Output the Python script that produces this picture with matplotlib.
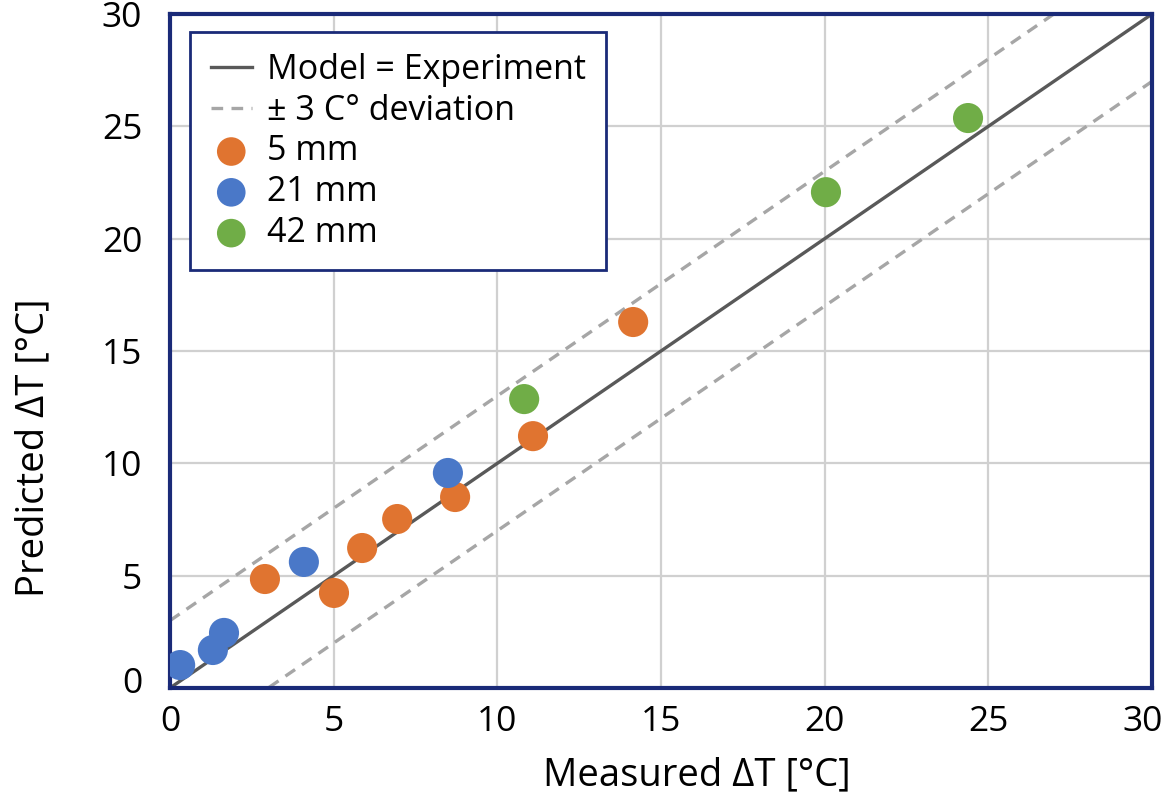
import matplotlib
matplotlib.use('Agg')
import matplotlib.pyplot as plt
import matplotlib.transforms as mtransforms
import numpy as np

plt.rcParams['font.family'] = ['Open Sans', 'DejaVu Sans']

# measured / predicted temperature rise per gauge depth
x_5mm = [2.90, 5.01, 5.87, 6.94, 8.71, 11.09, 14.15]
y_5mm = [4.85, 4.23, 6.23, 7.52, 8.50, 11.21, 16.29]
x_21mm = [0.31, 1.31, 1.65, 4.09, 8.49]
y_21mm = [1.02, 1.69, 2.45, 5.61, 9.57]
x_42mm = [10.82, 20.04, 24.38]
y_42mm = [12.86, 22.07, 25.37]

ref_x = [0, 30]
deviation = 3
ticks = [0, 5, 10, 15, 20, 25, 30]

navy = '#1a2a78'

fig = plt.figure(figsize=(11.7, 8.11), dpi=100)
ax = fig.add_axes([0.1453, 0.1517, 0.8393, 0.831])

ax.grid(True, color='#d0d0d0', lw=1.6, zorder=0)

ax.plot(ref_x, ref_x, color='#595959', lw=2.4, zorder=2,
        label='Model = Experiment')
rx = np.array(ref_x)
ax.plot(rx, rx + deviation, color='#a6a6a6', lw=2.4, ls=(0, (3.5, 2.5)),
        zorder=2, label='± 3 C° deviation')
ax.plot(rx, rx - deviation, color='#a6a6a6', lw=2.4, ls=(0, (3.5, 2.5)),
        zorder=2)

ax.scatter(x_5mm, y_5mm, s=470, color='#e07430', edgecolors='none',
           zorder=3, label='5 mm')
ax.scatter(x_21mm, y_21mm, s=470, color='#4a78c8', edgecolors='none',
           zorder=3, label='21 mm')
ax.scatter(x_42mm, y_42mm, s=470, color='#70ad47', edgecolors='none',
           zorder=3, label='42 mm')

ax.set_xlim(0, 30)
ax.set_ylim(0, 30)
ax.set_xticks(ticks)
ax.set_yticks(ticks)
ax.tick_params(length=0, labelsize=25.5, pad=12)
ax.tick_params(axis='y', pad=20)
for sp in ax.spines.values():
    sp.set_color(navy)
    sp.set_linewidth(3)

# pull the outer tick labels inward a little, like the original
xlabels = ax.get_xticklabels()
xlabels[-1].set_transform(xlabels[-1].get_transform() +
                          mtransforms.ScaledTranslation(-0.09, 0, fig.dpi_scale_trans))
ylabels = ax.get_yticklabels()
ylabels[0].set_transform(ylabels[0].get_transform() +
                         mtransforms.ScaledTranslation(0, 0.08, fig.dpi_scale_trans))

ax.set_xlabel('Measured ΔT [°C]', fontsize=27.5)
ax.set_ylabel('Predicted ΔT [°C]', fontsize=27.5)
ax.xaxis.set_label_coords(0.537, -0.102)
ax.yaxis.set_label_coords(-0.12, 0.356)

leg = ax.legend(loc='upper left', bbox_to_anchor=(0.0, 1.003),
                fontsize=24.5, frameon=True, fancybox=False,
                handlelength=1.2, handletextpad=0.45, labelspacing=0.2,
                borderpad=0.6, borderaxespad=0.6, markerscale=0.95)
leg.get_frame().set_edgecolor(navy)
leg.get_frame().set_linewidth(2)
leg.get_frame().set_alpha(1)

fig.savefig('out.png', dpi=100)
